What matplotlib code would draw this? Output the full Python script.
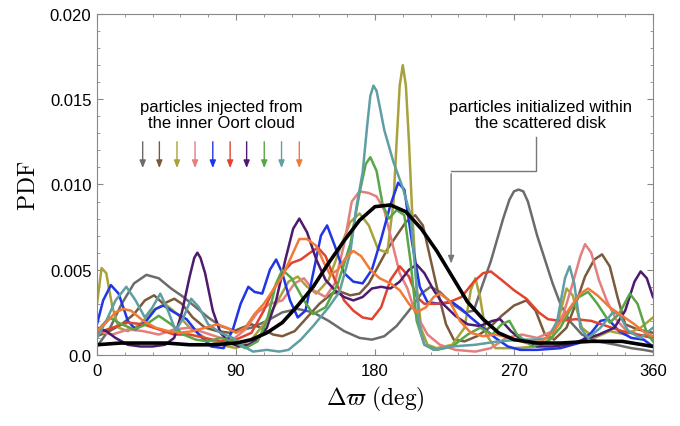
import numpy as np
import matplotlib
matplotlib.use("Agg")
import matplotlib.pyplot as plt
from matplotlib.ticker import MultipleLocator

plt.rcParams['font.family'] = ['Liberation Sans', 'DejaVu Sans']
plt.rcParams['mathtext.fontset'] = 'cm'

# PDF values below are in units of 1e-3
gray_x = [0, 8, 16, 24, 32, 40, 48, 56, 64, 72, 80, 90, 100, 110, 120, 130, 140, 150, 160, 170, 178, 186, 194, 202, 210, 216, 222, 230, 238, 244, 248, 255, 263, 267, 270, 273, 276, 279, 285, 290, 295, 300, 306, 314, 324, 336, 346, 354, 360]
gray_y = [0.5, 1.5, 3.0, 4.2, 4.7, 4.5, 3.9, 3.4, 2.8, 2.2, 1.7, 1.4, 1.6, 2.0, 2.5, 2.7, 2.5, 2.0, 1.4, 1.0, 0.9, 1.1, 1.7, 2.6, 3.6, 4.0, 3.7, 3.0, 2.5, 2.6, 3.7, 5.5, 8.0, 9.1, 9.6, 9.7, 9.6, 9.0, 7.0, 5.6, 4.2, 3.0, 2.0, 1.2, 0.8, 0.6, 0.4, 0.3, 0.2]

brown_x = [0, 8, 16, 24, 31, 37, 43, 50, 55, 62, 70, 78, 86, 94, 100, 106, 114, 120, 128, 136, 144, 152, 158, 164, 170, 176, 182, 188, 194, 200, 206, 211, 216, 221, 226, 231, 238, 246, 254, 262, 270, 278, 284, 290, 296, 304, 310, 316, 322, 327, 332, 337, 342, 350, 360]
brown_y = [1.1, 1.4, 1.8, 2.4, 3.2, 3.5, 3.0, 3.3, 3.0, 2.2, 1.6, 1.4, 1.3, 1.6, 1.8, 1.6, 1.2, 1.1, 1.4, 2.2, 3.0, 3.6, 3.7, 3.5, 3.6, 4.2, 5.2, 6.2, 7.0, 7.8, 8.2, 7.6, 5.6, 3.6, 1.8, 0.9, 0.8, 1.1, 1.6, 2.3, 2.9, 3.2, 2.6, 1.2, 0.9, 1.6, 3.0, 4.6, 5.6, 5.9, 5.2, 3.4, 1.8, 1.5, 1.3]

olive_x = [0, 3, 6, 10, 14, 20, 28, 36, 44, 52, 60, 70, 80, 90, 100, 108, 116, 124, 130, 136, 142, 150, 158, 164, 170, 176, 182, 188, 192, 194, 196, 198, 200, 202, 204, 207, 210, 214, 220, 230, 238, 242, 245, 248, 252, 258, 270, 285, 295, 300, 304, 308, 314, 322, 332, 342, 352, 360]
olive_y = [3.0, 5.1, 4.8, 2.8, 1.6, 1.4, 1.8, 2.6, 3.0, 2.4, 1.6, 1.0, 0.6, 0.4, 0.9, 1.8, 3.0, 4.3, 4.6, 4.0, 3.6, 4.4, 6.4, 7.8, 8.3, 7.6, 6.2, 6.0, 9.0, 12.5, 15.8, 17.0, 15.8, 12.5, 8.5, 4.0, 1.5, 0.6, 0.4, 0.6, 1.6, 3.8, 4.5, 3.4, 1.2, 0.4, 0.4, 0.5, 1.0, 2.5, 3.9, 3.5, 1.6, 1.0, 1.4, 1.2, 1.6, 2.2]

pink_x = [0, 10, 20, 30, 40, 50, 60, 70, 80, 88, 96, 104, 112, 120, 128, 134, 140, 148, 154, 160, 165, 170, 176, 181, 186, 190, 196, 201, 206, 214, 222, 232, 245, 255, 265, 275, 285, 295, 302, 308, 313, 316, 320, 325, 330, 336, 342, 350, 360]
pink_y = [1.4, 1.2, 1.5, 1.4, 1.2, 1.5, 1.6, 1.3, 1.0, 0.9, 1.5, 2.5, 3.0, 3.2, 4.2, 4.5, 3.8, 3.4, 4.2, 6.5, 9.0, 9.6, 9.5, 9.3, 8.5, 7.0, 4.8, 3.9, 2.5, 1.2, 0.6, 0.3, 0.2, 0.4, 1.0, 1.2, 1.0, 1.4, 2.4, 4.2, 5.8, 6.5, 6.0, 4.4, 3.2, 2.1, 1.5, 1.2, 1.0]

blue_x = [0, 4, 9, 14, 20, 25, 32, 38, 43, 50, 58, 66, 74, 82, 88, 93, 98, 102, 107, 112, 116, 120, 125, 130, 135, 140, 145, 149, 154, 160, 166, 172, 178, 184, 190, 195, 199, 204, 209, 214, 222, 230, 236, 242, 250, 258, 266, 274, 285, 300, 312, 320, 326, 331, 338, 346, 354, 360]
blue_y = [1.8, 3.2, 4.1, 3.6, 2.0, 1.5, 2.0, 2.7, 2.9, 2.5, 2.1, 1.2, 0.5, 0.4, 1.5, 3.0, 4.0, 3.7, 3.6, 5.0, 5.6, 4.8, 3.2, 2.2, 2.6, 4.8, 7.0, 7.6, 6.4, 4.8, 4.3, 4.2, 5.0, 6.8, 8.8, 10.1, 9.7, 6.6, 4.0, 3.1, 3.0, 3.1, 2.7, 2.2, 1.6, 1.0, 0.5, 0.3, 0.3, 0.4, 0.7, 1.3, 2.0, 2.1, 1.4, 1.0, 0.9, 0.5]

red_x = [0, 10, 20, 30, 40, 50, 60, 70, 80, 90, 100, 108, 114, 120, 126, 132, 138, 143, 148, 154, 160, 166, 172, 178, 184, 190, 196, 202, 207, 212, 220, 228, 236, 244, 250, 255, 262, 270, 278, 286, 292, 300, 310, 320, 330, 340, 350, 360]
red_y = [1.3, 1.6, 1.9, 1.8, 1.5, 1.2, 1.2, 1.0, 0.8, 0.9, 1.3, 2.6, 3.8, 4.8, 5.4, 5.6, 6.0, 6.3, 5.8, 4.4, 3.2, 2.6, 2.2, 2.1, 2.8, 4.4, 5.2, 4.6, 3.4, 3.0, 3.0, 3.1, 3.4, 4.3, 4.8, 4.9, 4.4, 3.8, 3.3, 2.5, 2.1, 2.0, 2.1, 2.0, 1.7, 1.4, 1.2, 1.0]

purple_x = [0, 6, 12, 20, 28, 36, 44, 50, 55, 60, 63, 65, 67, 70, 75, 80, 86, 92, 98, 104, 110, 116, 122, 127, 131, 136, 142, 148, 154, 160, 166, 172, 178, 184, 190, 196, 202, 207, 212, 218, 224, 232, 240, 248, 256, 261, 268, 276, 285, 295, 305, 315, 325, 335, 342, 348, 352, 356, 360]
purple_y = [1.6, 1.4, 1.0, 0.6, 0.5, 0.5, 0.6, 1.0, 2.5, 4.6, 5.7, 6.0, 5.7, 4.8, 2.6, 1.3, 0.7, 0.5, 0.6, 0.9, 1.6, 3.2, 5.6, 7.4, 8.0, 7.2, 5.6, 4.4, 3.8, 3.4, 3.2, 3.4, 3.9, 4.0, 3.9, 4.3, 5.0, 5.3, 4.8, 3.8, 3.0, 2.3, 1.8, 1.7, 2.0, 2.1, 1.4, 0.8, 0.5, 0.5, 0.6, 0.9, 1.2, 1.6, 2.6, 4.3, 4.9, 4.5, 3.4]

green_x = [0, 8, 16, 24, 32, 40, 48, 56, 64, 72, 80, 88, 96, 104, 110, 116, 120, 126, 134, 140, 148, 156, 164, 170, 174, 177, 181, 185, 189, 194, 199, 203, 207, 212, 220, 230, 240, 248, 256, 262, 267, 272, 282, 292, 300, 306, 312, 318, 324, 332, 338, 345, 350, 356, 360]
green_y = [1.4, 2.2, 1.8, 1.5, 1.8, 2.3, 1.8, 1.2, 0.9, 0.8, 1.0, 0.8, 0.4, 0.8, 2.0, 4.2, 5.0, 4.5, 3.2, 2.4, 2.8, 4.2, 6.5, 9.5, 11.2, 11.6, 10.8, 8.8, 8.0, 8.5, 8.2, 5.5, 2.0, 0.6, 0.3, 0.5, 1.2, 1.6, 1.2, 1.8, 2.0, 1.2, 0.5, 0.8, 1.6, 2.6, 3.4, 3.7, 3.0, 1.9, 2.4, 3.6, 3.0, 1.3, 0.8]

teal_x = [0, 6, 12, 19, 25, 31, 36, 41, 46, 51, 56, 61, 66, 72, 80, 88, 95, 101, 110, 118, 124, 132, 140, 150, 157, 164, 168, 172, 175, 177, 179, 181, 183, 186, 192, 198, 203, 206, 209, 212, 218, 230, 245, 260, 275, 285, 292, 298, 303, 306, 309, 313, 318, 326, 334, 338, 344, 352, 360]
teal_y = [1.0, 2.0, 3.2, 4.0, 3.2, 2.2, 2.8, 3.6, 2.6, 1.4, 2.2, 3.3, 2.8, 1.8, 1.3, 1.0, 0.5, 0.2, 0.3, 0.2, 0.3, 0.9, 1.7, 2.8, 3.7, 6.0, 8.7, 10.7, 13.5, 15.2, 15.8, 15.5, 14.6, 13.2, 11.3, 9.8, 8.2, 5.0, 1.5, 0.6, 0.3, 0.5, 0.6, 0.8, 0.9, 0.9, 1.0, 2.0, 4.5, 5.2, 4.2, 1.6, 1.0, 1.6, 2.5, 2.4, 1.4, 1.0, 1.6]

orange_x = [0, 6, 12, 17, 22, 30, 38, 46, 54, 62, 70, 78, 84, 90, 96, 102, 108, 114, 120, 126, 131, 136, 142, 147, 151, 156, 161, 166, 171, 177, 183, 190, 196, 202, 207, 213, 218, 222, 228, 235, 242, 250, 258, 268, 278, 288, 296, 302, 308, 313, 318, 324, 332, 340, 348, 355, 360]
orange_y = [1.4, 1.9, 2.5, 2.7, 2.6, 2.0, 1.6, 1.4, 1.3, 1.4, 1.6, 1.8, 1.6, 1.3, 1.6, 2.4, 3.0, 3.8, 4.6, 5.8, 6.8, 6.8, 6.4, 5.4, 4.7, 5.0, 5.7, 6.1, 5.8, 5.0, 4.5, 4.2, 3.8, 3.0, 2.5, 2.8, 3.4, 3.6, 3.2, 2.0, 1.3, 1.1, 1.2, 1.0, 0.7, 0.8, 1.4, 2.2, 3.0, 3.6, 3.9, 3.5, 2.8, 2.3, 1.8, 1.3, 1.1]

black_x = [0, 15, 30, 45, 60, 75, 90, 100, 110, 120, 130, 140, 150, 160, 170, 180, 190, 200, 210, 220, 230, 240, 250, 260, 270, 285, 300, 320, 340, 360]
black_y = [0.6, 0.7, 0.7, 0.7, 0.6, 0.6, 0.7, 0.9, 1.3, 1.9, 2.9, 4.0, 5.4, 6.7, 7.9, 8.7, 8.8, 8.4, 7.4, 6.1, 4.6, 3.1, 2.1, 1.3, 0.9, 0.7, 0.7, 0.8, 0.8, 0.5]

series = [
    (gray_x, gray_y, '#6b6b6b'),
    (brown_x, brown_y, '#7b5a3c'),
    (olive_x, olive_y, '#a8a23c'),
    (pink_x, pink_y, '#e47f7f'),
    (blue_x, blue_y, '#1f35e6'),
    (red_x, red_y, '#e0442e'),
    (purple_x, purple_y, '#4e1a6e'),
    (green_x, green_y, '#58a645'),
    (teal_x, teal_y, '#5f9ea3'),
    (orange_x, orange_y, '#f07a3a'),
]
scale = 1e-3

fig = plt.figure(figsize=(6.8, 4.27), dpi=100)
ax = fig.add_axes([0.1426, 0.1663, 0.8177, 0.7986])

for xs, ys, c in series:
    ax.plot(xs, np.array(ys) * scale, color=c, lw=1.8, solid_joinstyle='round')
ax.plot(black_x, np.array(black_y) * scale, color='black', lw=2.6, solid_joinstyle='round')

ax.set_xlim(0, 360)
ax.set_ylim(0, 0.020)
ax.set_xticks([0, 90, 180, 270, 360])
ax.xaxis.set_minor_locator(MultipleLocator(18))
ax.set_yticks([0, 0.005, 0.010, 0.015, 0.020])
ax.set_yticklabels(['0.0', '0.005', '0.010', '0.015', '0.020'])
ax.yaxis.set_minor_locator(MultipleLocator(0.001))
ax.tick_params(which='both', direction='in', top=True, right=True, colors='#888888', labelcolor='black', labelsize=12)
ax.tick_params(which='major', length=4, width=0.8)
ax.tick_params(which='minor', length=2, width=0.6)
ax.tick_params(axis='y', pad=4)
ax.tick_params(axis='x', pad=6)
for s in ax.spines.values():
    s.set_color('#888888')
    s.set_linewidth(0.8)

ax.set_ylabel(r'$\mathrm{PDF}$', fontsize=17, labelpad=7)
ax.set_xlabel(r'$\Delta\varpi\ \mathrm{(deg)}$', fontsize=17, labelpad=4)

# left annotation
ax.text(80.3, 0.0141, 'particles injected from\nthe inner Oort cloud', ha='center', va='center',
        fontsize=12, linespacing=1.1)
arrow_x = [29.6, 40.4, 51.8, 63.5, 75.0, 86.2, 96.9, 108.3, 119.5, 131.0]
for xa, (_, _, c) in zip(arrow_x, series):
    ax.annotate('', xy=(xa, 0.0108), xytext=(xa, 0.01267),
                arrowprops=dict(arrowstyle='-|>,head_length=0.45,head_width=0.18', color=c, lw=1.0))

# right annotation
ax.text(287, 0.0141, 'particles initialized within\nthe scattered disk', ha='center', va='center',
        fontsize=12, linespacing=1.1)
ax.plot([284.3, 284.3, 229.3], [0.01279, 0.01079, 0.01079], color='#777777', lw=1.0)
ax.annotate('', xy=(229.3, 0.0052), xytext=(229.3, 0.01079),
            arrowprops=dict(arrowstyle='-|>,head_length=0.45,head_width=0.18', color='#777777', lw=1.0))

fig.savefig('out.png', dpi=100)
